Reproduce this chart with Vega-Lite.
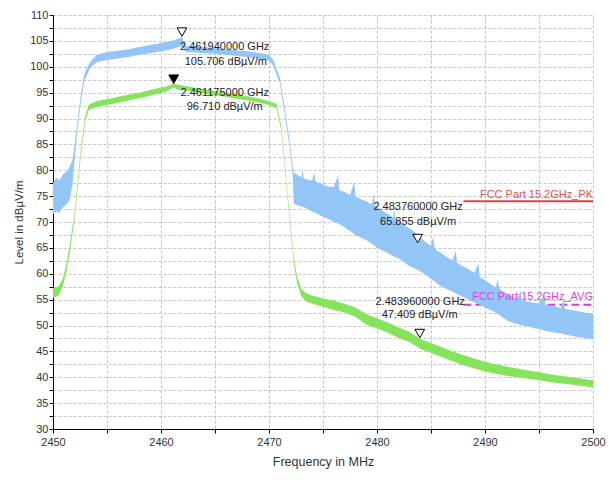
{
  "$schema": "https://vega.github.io/schema/vega-lite/v6.json",
  "width": 540,
  "height": 414,
  "autosize": {"type": "none"},
  "padding": {"left": 53, "top": 15, "right": 21, "bottom": 51},
  "background": "#ffffff",
  "config": {
    "view": {"stroke": null},
    "font": "Liberation Sans",
    "axis": {
      "labelFont": "Liberation Sans",
      "titleFont": "Liberation Sans",
      "labelFontSize": 11,
      "labelColor": "#333333",
      "titleColor": "#333333",
      "titleFontWeight": "normal",
      "domainColor": "#000000",
      "tickColor": "#000000",
      "tickSize": 4,
      "grid": true,
      "gridColor": "#c4c4c4",
      "gridDash": [3, 2],
      "gridWidth": 1
    }
  },
  "datasets": {
    "blue": [
      {"f": 2450.0, "v": 71.5, "v2": 77.5},
      {"f": 2450.3, "v": 72.0, "v2": 78.5},
      {"f": 2450.6, "v": 71.8, "v2": 78.0},
      {"f": 2450.9, "v": 72.8, "v2": 79.2},
      {"f": 2451.2, "v": 73.3, "v2": 79.6},
      {"f": 2451.5, "v": 74.0, "v2": 80.5},
      {"f": 2451.8, "v": 77.0, "v2": 82.0},
      {"f": 2452.0, "v": 82.0, "v2": 85.0},
      {"f": 2452.3, "v": 88.5, "v2": 90.0},
      {"f": 2452.6, "v": 93.5, "v2": 95.0},
      {"f": 2452.9, "v": 97.3, "v2": 98.6},
      {"f": 2453.4, "v": 99.6, "v2": 100.8},
      {"f": 2454.0, "v": 100.8, "v2": 102.2},
      {"f": 2454.5, "v": 101.1, "v2": 102.6},
      {"f": 2455.0, "v": 101.3, "v2": 102.8},
      {"f": 2456.0, "v": 101.6, "v2": 103.1},
      {"f": 2457.0, "v": 101.9, "v2": 103.4},
      {"f": 2458.0, "v": 102.3, "v2": 103.8},
      {"f": 2459.0, "v": 102.6, "v2": 104.2},
      {"f": 2460.0, "v": 103.0, "v2": 104.6},
      {"f": 2461.0, "v": 103.4, "v2": 105.0},
      {"f": 2461.94, "v": 104.0, "v2": 105.7},
      {"f": 2462.3, "v": 102.8, "v2": 104.0},
      {"f": 2463.0, "v": 102.8, "v2": 104.0},
      {"f": 2464.0, "v": 102.6, "v2": 103.8},
      {"f": 2465.0, "v": 102.5, "v2": 103.6},
      {"f": 2466.0, "v": 102.3, "v2": 103.4},
      {"f": 2467.0, "v": 102.1, "v2": 103.2},
      {"f": 2468.0, "v": 101.9, "v2": 103.0},
      {"f": 2469.0, "v": 101.6, "v2": 102.7},
      {"f": 2470.0, "v": 101.2, "v2": 102.3},
      {"f": 2470.4, "v": 100.2, "v2": 101.3},
      {"f": 2471.0, "v": 96.8, "v2": 97.9},
      {"f": 2471.45, "v": 91.0, "v2": 92.2},
      {"f": 2471.9, "v": 84.6, "v2": 85.8},
      {"f": 2472.2, "v": 79.0, "v2": 80.6},
      {"f": 2472.3, "v": 73.5, "v2": 79.5},
      {"f": 2473.0, "v": 73.0, "v2": 78.6},
      {"f": 2473.1, "v": 72.9, "v2": 80.2},
      {"f": 2473.2, "v": 72.9, "v2": 78.5},
      {"f": 2473.5, "v": 72.6, "v2": 78.2},
      {"f": 2474.0, "v": 72.0, "v2": 78.0},
      {"f": 2474.2, "v": 71.9, "v2": 79.6},
      {"f": 2474.3, "v": 71.8, "v2": 77.9},
      {"f": 2474.5, "v": 71.6, "v2": 77.6},
      {"f": 2475.0, "v": 71.0, "v2": 77.3},
      {"f": 2475.5, "v": 70.6, "v2": 76.8},
      {"f": 2476.0, "v": 70.0, "v2": 76.8},
      {"f": 2476.4, "v": 69.7, "v2": 79.0},
      {"f": 2476.5, "v": 69.6, "v2": 76.2},
      {"f": 2477.0, "v": 69.0, "v2": 75.8},
      {"f": 2477.5, "v": 68.2, "v2": 75.2},
      {"f": 2477.9, "v": 67.7, "v2": 77.8},
      {"f": 2478.0, "v": 67.5, "v2": 75.0},
      {"f": 2478.5, "v": 67.0, "v2": 74.4},
      {"f": 2479.0, "v": 66.5, "v2": 74.0},
      {"f": 2479.5, "v": 65.8, "v2": 73.4},
      {"f": 2479.7, "v": 65.5, "v2": 75.5},
      {"f": 2479.8, "v": 65.4, "v2": 73.2},
      {"f": 2480.0, "v": 65.0, "v2": 72.9},
      {"f": 2480.5, "v": 64.5, "v2": 72.2},
      {"f": 2481.0, "v": 64.0, "v2": 71.6},
      {"f": 2481.5, "v": 63.4, "v2": 70.8},
      {"f": 2481.6, "v": 63.3, "v2": 73.0},
      {"f": 2481.7, "v": 63.2, "v2": 70.6},
      {"f": 2482.0, "v": 63.0, "v2": 70.2},
      {"f": 2482.5, "v": 62.2, "v2": 69.4},
      {"f": 2483.0, "v": 61.5, "v2": 68.8},
      {"f": 2483.5, "v": 61.0, "v2": 68.0},
      {"f": 2484.0, "v": 60.5, "v2": 67.0},
      {"f": 2484.5, "v": 59.8, "v2": 66.2},
      {"f": 2485.0, "v": 59.0, "v2": 65.4},
      {"f": 2485.2, "v": 58.7, "v2": 67.2},
      {"f": 2485.3, "v": 58.6, "v2": 65.2},
      {"f": 2485.5, "v": 58.2, "v2": 64.6},
      {"f": 2486.0, "v": 57.5, "v2": 63.9},
      {"f": 2486.5, "v": 57.0, "v2": 63.2},
      {"f": 2487.0, "v": 56.5, "v2": 62.6},
      {"f": 2487.3, "v": 56.2, "v2": 64.5},
      {"f": 2487.4, "v": 56.1, "v2": 62.3},
      {"f": 2487.5, "v": 56.0, "v2": 62.0},
      {"f": 2488.0, "v": 55.5, "v2": 61.4},
      {"f": 2488.5, "v": 55.0, "v2": 60.8},
      {"f": 2489.0, "v": 54.5, "v2": 60.2},
      {"f": 2489.4, "v": 54.1, "v2": 62.0},
      {"f": 2489.5, "v": 54.0, "v2": 59.4},
      {"f": 2490.0, "v": 53.5, "v2": 58.8},
      {"f": 2490.5, "v": 53.0, "v2": 58.0},
      {"f": 2491.0, "v": 52.5, "v2": 57.4},
      {"f": 2491.2, "v": 52.2, "v2": 59.0},
      {"f": 2491.3, "v": 52.1, "v2": 57.2},
      {"f": 2491.5, "v": 51.8, "v2": 56.8},
      {"f": 2492.0, "v": 51.0, "v2": 56.2},
      {"f": 2492.5, "v": 50.6, "v2": 55.6},
      {"f": 2493.0, "v": 50.3, "v2": 55.2},
      {"f": 2493.3, "v": 50.1, "v2": 56.8},
      {"f": 2493.4, "v": 50.0, "v2": 55.0},
      {"f": 2493.5, "v": 50.0, "v2": 54.8},
      {"f": 2494.0, "v": 49.8, "v2": 54.6},
      {"f": 2494.5, "v": 49.5, "v2": 54.4},
      {"f": 2495.0, "v": 49.3, "v2": 54.2},
      {"f": 2495.5, "v": 49.0, "v2": 55.8},
      {"f": 2495.6, "v": 49.0, "v2": 54.0},
      {"f": 2496.0, "v": 48.8, "v2": 53.9},
      {"f": 2496.5, "v": 48.6, "v2": 53.7},
      {"f": 2497.0, "v": 48.5, "v2": 53.4},
      {"f": 2497.3, "v": 48.3, "v2": 55.0},
      {"f": 2497.4, "v": 48.3, "v2": 53.3},
      {"f": 2497.5, "v": 48.2, "v2": 53.2},
      {"f": 2498.0, "v": 48.0, "v2": 53.0},
      {"f": 2498.5, "v": 47.8, "v2": 52.8},
      {"f": 2499.0, "v": 47.7, "v2": 52.6},
      {"f": 2499.5, "v": 47.5, "v2": 52.4},
      {"f": 2500.0, "v": 47.3, "v2": 52.3}
    ],
    "green": [
      {"f": 2450.0, "v": 55.3, "v2": 57.3},
      {"f": 2450.5, "v": 55.8, "v2": 57.5},
      {"f": 2450.9, "v": 57.5, "v2": 59.0},
      {"f": 2451.2, "v": 60.0, "v2": 61.5},
      {"f": 2451.55, "v": 64.0, "v2": 65.5},
      {"f": 2452.0, "v": 70.5, "v2": 71.8},
      {"f": 2452.3, "v": 77.0, "v2": 78.3},
      {"f": 2452.6, "v": 83.3, "v2": 84.5},
      {"f": 2452.8, "v": 86.5, "v2": 87.7},
      {"f": 2453.0, "v": 89.5, "v2": 90.5},
      {"f": 2453.3, "v": 91.6, "v2": 92.6},
      {"f": 2454.0, "v": 92.2, "v2": 93.4},
      {"f": 2455.0, "v": 92.6, "v2": 93.7},
      {"f": 2456.0, "v": 93.0, "v2": 94.2},
      {"f": 2457.0, "v": 93.5, "v2": 94.6},
      {"f": 2458.0, "v": 93.9, "v2": 95.0},
      {"f": 2459.0, "v": 94.4, "v2": 95.5},
      {"f": 2460.0, "v": 94.9, "v2": 96.0},
      {"f": 2460.5, "v": 95.2, "v2": 96.2},
      {"f": 2461.0, "v": 95.8, "v2": 96.6},
      {"f": 2461.175, "v": 96.0, "v2": 96.8},
      {"f": 2461.5, "v": 95.6, "v2": 96.5},
      {"f": 2462.0, "v": 95.5, "v2": 96.4},
      {"f": 2463.0, "v": 95.2, "v2": 96.0},
      {"f": 2464.0, "v": 94.8, "v2": 95.6},
      {"f": 2465.0, "v": 94.5, "v2": 95.3},
      {"f": 2466.0, "v": 94.2, "v2": 95.0},
      {"f": 2467.0, "v": 93.8, "v2": 94.7},
      {"f": 2468.0, "v": 93.5, "v2": 94.3},
      {"f": 2469.0, "v": 93.1, "v2": 93.9},
      {"f": 2470.0, "v": 92.6, "v2": 93.4},
      {"f": 2470.7, "v": 92.0, "v2": 92.8},
      {"f": 2471.1, "v": 88.0, "v2": 89.0},
      {"f": 2471.4, "v": 82.0, "v2": 83.0},
      {"f": 2471.7, "v": 75.0, "v2": 76.0},
      {"f": 2472.0, "v": 68.6, "v2": 69.6},
      {"f": 2472.3, "v": 62.0, "v2": 63.2},
      {"f": 2472.6, "v": 58.2, "v2": 59.4},
      {"f": 2473.0, "v": 55.6, "v2": 57.0},
      {"f": 2473.5, "v": 54.6, "v2": 56.2},
      {"f": 2474.0, "v": 54.2, "v2": 55.8},
      {"f": 2475.0, "v": 53.6, "v2": 55.2},
      {"f": 2476.0, "v": 53.0, "v2": 54.8},
      {"f": 2477.0, "v": 52.5, "v2": 54.2},
      {"f": 2478.0, "v": 51.7, "v2": 53.5},
      {"f": 2479.0, "v": 50.2, "v2": 52.2},
      {"f": 2480.0, "v": 49.4, "v2": 51.4},
      {"f": 2481.0, "v": 48.6, "v2": 50.6},
      {"f": 2482.0, "v": 47.6, "v2": 49.6},
      {"f": 2483.0, "v": 46.8, "v2": 48.8},
      {"f": 2484.0, "v": 45.5, "v2": 47.4},
      {"f": 2485.0, "v": 44.7, "v2": 46.6},
      {"f": 2486.0, "v": 43.9, "v2": 45.8},
      {"f": 2487.0, "v": 43.1, "v2": 45.0},
      {"f": 2488.0, "v": 42.3, "v2": 44.3},
      {"f": 2489.0, "v": 41.7, "v2": 43.6},
      {"f": 2490.0, "v": 41.1, "v2": 43.0},
      {"f": 2491.0, "v": 40.7, "v2": 42.5},
      {"f": 2492.0, "v": 40.3, "v2": 42.1},
      {"f": 2493.0, "v": 40.0, "v2": 41.7},
      {"f": 2494.0, "v": 39.7, "v2": 41.3},
      {"f": 2495.0, "v": 39.4, "v2": 41.0},
      {"f": 2496.0, "v": 39.1, "v2": 40.6},
      {"f": 2497.0, "v": 38.8, "v2": 40.3},
      {"f": 2498.0, "v": 38.6, "v2": 40.0},
      {"f": 2499.0, "v": 38.3, "v2": 39.7},
      {"f": 2500.0, "v": 38.0, "v2": 39.4}
    ],
    "limits": [
      {"kind": "PK", "f": 2488.0, "v": 74},
      {"kind": "PK", "f": 2500.0, "v": 74},
      {"kind": "AVG", "f": 2488.0, "v": 54},
      {"kind": "AVG", "f": 2500.0, "v": 54}
    ],
    "markers": [
      {"f": 2461.94, "v": 106.7, "style": "open"},
      {"f": 2461.175, "v": 97.6, "style": "solid"},
      {"f": 2483.76, "v": 66.8, "style": "open"},
      {"f": 2483.96, "v": 48.45, "style": "open"}
    ],
    "notes": [
      {"f": 2465.9, "v": 103.9, "text": "2.461940000 GHz"},
      {"f": 2466.0, "v": 100.95, "text": "105.706 dBµV/m"},
      {"f": 2465.9, "v": 94.9, "text": "2.461175000 GHz"},
      {"f": 2465.9, "v": 92.2, "text": "96.710 dBµV/m"},
      {"f": 2483.8, "v": 72.95, "text": "2.483760000 GHz"},
      {"f": 2483.8, "v": 70.0, "text": "65.855 dBµV/m"},
      {"f": 2484.0, "v": 54.55, "text": "2.483960000 GHz"},
      {"f": 2483.95, "v": 52.0, "text": "47.409 dBµV/m"}
    ],
    "limitLabels": [
      {"f": 2500.0, "v": 75.2, "text": "FCC Part 15.2GHz_PK", "kind": "PK"},
      {"f": 2500.0, "v": 55.5, "text": "FCC Part 15.2GHz_AVG", "kind": "AVG"}
    ]
  },
  "encoding": {
    "x": {
      "field": "f",
      "type": "quantitative",
      "scale": {"domain": [2450, 2500], "nice": false, "zero": false},
      "axis": {
        "title": "Frequency in MHz",
        "values": [2450, 2455, 2460, 2465, 2470, 2475, 2480, 2485, 2490, 2495, 2500],
        "format": "d",
        "labelExpr": "datum.value % 10 === 0 ? datum.label : ''",
        "labelFlush": false,
        "labelPadding": 3,
        "titleFontSize": 12.5,
        "titlePadding": 8
      }
    },
    "y": {
      "field": "v",
      "type": "quantitative",
      "scale": {"domain": [30, 110], "nice": false, "zero": false},
      "axis": {
        "title": "Level in dBµV/m",
        "values": [30, 32.5, 35, 37.5, 40, 42.5, 45, 47.5, 50, 52.5, 55, 57.5, 60, 62.5, 65, 67.5, 70, 72.5, 75, 77.5, 80, 82.5, 85, 87.5, 90, 92.5, 95, 97.5, 100, 102.5, 105, 107.5, 110],
        "labelExpr": "datum.value % 5 === 0 ? format(datum.value, 'd') : ''",
        "labelPadding": 1,
        "titleFontSize": 11.5,
        "titlePadding": 5
      }
    }
  },
  "layer": [
    {
      "data": {"name": "limits"},
      "transform": [{"filter": "datum.kind === 'PK'"}],
      "mark": {"type": "line", "color": "#d94444", "strokeWidth": 2}
    },
    {
      "data": {"name": "limits"},
      "transform": [{"filter": "datum.kind === 'AVG'"}],
      "mark": {"type": "line", "color": "#d040d0", "strokeWidth": 2, "strokeDash": [8, 4]}
    },
    {
      "data": {"name": "blue"},
      "mark": {"type": "area", "color": "#93c5f6", "opacity": 1, "clip": true},
      "encoding": {"y2": {"field": "v2"}}
    },
    {
      "data": {"name": "green"},
      "mark": {"type": "area", "color": "#86e35c", "opacity": 1, "clip": true},
      "encoding": {"y2": {"field": "v2"}}
    },
    {
      "data": {"name": "markers"},
      "mark": {"type": "point", "shape": "triangle-down", "size": 95, "stroke": "#000000", "strokeWidth": 1, "filled": true, "opacity": 1},
      "encoding": {
        "fill": {"field": "style", "type": "nominal", "scale": {"domain": ["open", "solid"], "range": ["#ffffff", "#000000"]}, "legend": null}
      }
    },
    {
      "data": {"name": "notes"},
      "mark": {"type": "text", "font": "Liberation Sans", "fontSize": 11, "color": "#222222", "align": "center", "baseline": "middle"},
      "encoding": {"text": {"field": "text"}}
    },
    {
      "data": {"name": "limitLabels"},
      "mark": {"type": "text", "font": "Liberation Sans", "fontSize": 11, "align": "right", "baseline": "middle"},
      "encoding": {
        "text": {"field": "text"},
        "color": {"field": "kind", "type": "nominal", "scale": {"domain": ["PK", "AVG"], "range": ["#e05050", "#e040e0"]}, "legend": null}
      }
    }
  ]
}
